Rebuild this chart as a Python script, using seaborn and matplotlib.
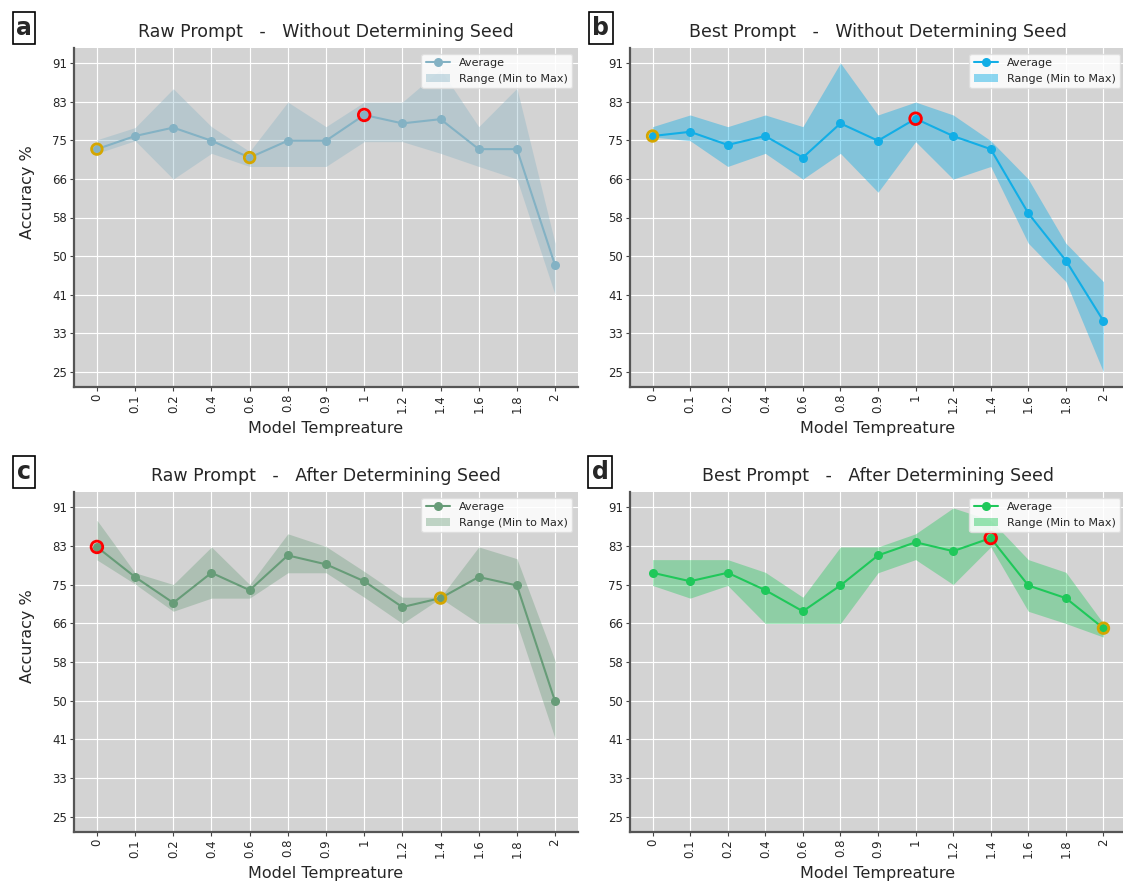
import numpy as np
import pandas as pd
import matplotlib
matplotlib.use("Agg")
import matplotlib.pyplot as plt
import seaborn as sns
from matplotlib.lines import Line2D
from matplotlib.patches import Patch

# ---------------- data ----------------
temps = ["0", "0.1", "0.2", "0.4", "0.6", "0.8", "0.9", "1", "1.2", "1.4", "1.6", "1.8", "2"]

a_avg = [72.6, 75.4, 77.2, 74.4, 70.8, 74.4, 74.4, 79.9, 78.1, 79.0, 72.6, 72.6, 47.8]
a_min = [71.7, 74.4, 66.2, 71.7, 68.9, 68.9, 68.9, 74.2, 74.2, 71.7, 68.9, 66.2, 41.5]
a_max = [74.6, 77.2, 85.5, 77.4, 72.1, 82.65, 77.4, 82.65, 82.65, 89.6, 77.4, 85.6, 52.5]

b_avg = [75.4, 76.3, 73.5, 75.4, 70.8, 78.1, 74.4, 79.1, 75.4, 72.6, 58.9, 48.8, 35.9]
b_min = [75.2, 74.4, 68.9, 71.7, 66.2, 71.7, 63.4, 74.2, 66.2, 68.9, 52.5, 44.3, 25.0]
b_max = [77.4, 79.9, 77.4, 79.9, 77.4, 91.0, 79.9, 82.65, 79.9, 74.4, 66.2, 52.5, 44.3]

c_avg = [82.5, 76.1, 70.6, 77.0, 73.3, 80.7, 78.8, 75.2, 69.7, 71.6, 76.1, 74.3, 49.6]
c_min = [79.75, 74.6, 68.8, 71.6, 71.6, 77.0, 77.0, 71.8, 66.2, 71.6, 66.2, 66.2, 41.7]
c_max = [88.2, 77.0, 74.5, 82.5, 74.5, 85.3, 82.6, 77.3, 71.8, 71.8, 82.5, 80.0, 58.25]

d_avg = [77.0, 75.2, 77.0, 73.3, 68.8, 74.3, 80.7, 83.5, 81.6, 84.4, 74.3, 71.6, 65.2]
d_min = [74.3, 71.6, 74.3, 66.2, 66.2, 66.2, 77.0, 79.8, 74.5, 82.5, 68.8, 66.2, 63.3]
d_max = [79.8, 79.8, 79.8, 77.1, 71.8, 82.5, 82.5, 85.3, 90.8, 88.2, 79.8, 77.1, 66.2]

y_tick_values = [25, 33.25, 41.5, 49.75, 58, 66.25, 74.5, 82.75, 91]
y_tick_labels = ["25", "33", "41", "50", "58", "66", "75", "83", "91"]

panel_letters = ["a", "b", "c", "d"]
titles = ["Raw Prompt   -   Without Determining Seed",
          "Best Prompt   -   Without Determining Seed",
          "Raw Prompt   -   After Determining Seed",
          "Best Prompt   -   After Determining Seed"]
best_idx = [[7], [7], [0], [9]]
marked_idx = [[0, 4], [0], [9], [12]]

line_colors = ["#84b2c4", "#12aee6", "#679c78", "#1fc85a"]
fill_alpha = [0.35, 0.42, 0.35, 0.38]

# ---------------- style ----------------
sns.set_theme(style="darkgrid")
plt.rcParams["font.family"] = ["DejaVu Sans"]
plt.rcParams["axes.facecolor"] = "#d3d3d3"
plt.rcParams["grid.color"] = "white"

fig = plt.figure(figsize=(11.23, 8.81), dpi=100)
W, H = 1123.0, 881.0
boxes = [(74, 48, 504, 339), (630, 48, 496, 339),
         (74, 492, 504, 340), (630, 492, 496, 340)]
label_pos = [(24, 28), (601, 28), (24, 472), (600, 472)]

series = [(a_avg, a_min, a_max), (b_avg, b_min, b_max),
          (c_avg, c_min, c_max), (d_avg, d_min, d_max)]

for i in range(4):
    l, t, w, h = boxes[i]
    ax = fig.add_axes([l / W, 1 - (t + h) / H, w / W, h / H])
    avg, mn, mx = series[i]
    pos = np.arange(len(temps))
    df = pd.DataFrame({"pos": pos, "avg": avg})
    col = line_colors[i]
    ax.fill_between(pos, mn, mx, color=col, alpha=fill_alpha[i], linewidth=0)
    sns.lineplot(data=df, x="pos", y="avg", ax=ax, color=col, marker="o",
                 markersize=6.5, markeredgewidth=0, linewidth=1.5)
    ax.scatter(pos[best_idx[i]], np.array(avg)[best_idx[i]], s=70, facecolors="none",
               edgecolors="#ff0000", linewidths=2.0, zorder=5)
    ax.scatter(pos[marked_idx[i]], np.array(avg)[marked_idx[i]], s=58, facecolors="none",
               edgecolors="#d4a600", linewidths=2.0, zorder=5)

    ax.set_xlim(-0.6, 12.6)
    ax.set_ylim(21.8, 94.2)
    ax.set_xticks(pos)
    ax.set_xticklabels(temps, rotation=90, fontsize=8.5)
    ax.set_yticks(y_tick_values)
    ax.set_yticklabels(y_tick_labels, fontsize=8.5)
    ax.tick_params(axis="both", length=3, width=0.8, color="#444444", pad=2,
                   bottom=True, left=True)
    ax.grid(True, color="white", linewidth=0.85)
    for s in ["top", "right"]:
        ax.spines[s].set_visible(False)
    for s in ["left", "bottom"]:
        ax.spines[s].set_visible(True)
        ax.spines[s].set_color("#555555")
        ax.spines[s].set_linewidth(1.6)
    ax.set_xlabel("Model Tempreature", fontsize=11.5, labelpad=6)
    if i in (0, 2):
        ax.set_ylabel("Accuracy %", fontsize=11.5)
        ax.yaxis.set_label_coords(-0.078, 0.575)
    else:
        ax.set_ylabel("")
    ax.set_title(titles[i], fontsize=12.5, pad=8)

    handles = [Line2D([0], [0], color=col, marker="o", markersize=6.5,
                      markeredgewidth=0, linewidth=1.5),
               Patch(facecolor=col, alpha=fill_alpha[i] + 0.05, linewidth=0)]
    leg = ax.legend(handles, ["Average", "Range (Min to Max)"], loc="upper right",
                    fontsize=8, frameon=True, framealpha=0.85, facecolor="white",
                    edgecolor="#dddddd", borderaxespad=0.5, handlelength=2.2)

    lx, ly = label_pos[i]
    fig.text(lx / W, 1 - ly / H, panel_letters[i], fontsize=17, fontweight="bold",
             ha="center", va="center",
             bbox=dict(boxstyle="square,pad=0.15", facecolor="white",
                       edgecolor="black", linewidth=1.2))

fig.savefig("out.png", dpi=100)
